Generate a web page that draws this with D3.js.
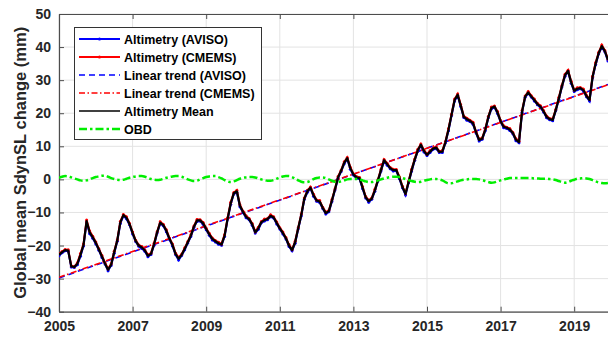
<!DOCTYPE html>
<html>
<head>
<meta charset="utf-8">
<script src="https://cdn.jsdelivr.net/npm/d3@7"></script>
<style>
  html, body { margin: 0; padding: 0; background: #fff; }
  svg { display: block; font-family: "Liberation Sans", Arial, sans-serif; }
</style>
</head>
<body>
<svg id="chart" width="608" height="339"></svg>
<script>
// Monthly global mean dynamic sea level change (mm), Jan 2005 - Dec 2019
const startYear = 2005;

const aviso = [
  -23.1, -22.2, -21.6, -21.7, -26.5, -26.6, -25.8, -23.2, -20.1, -12.9, -16.4, -17.8,
  -19.5, -21.4, -23.6, -25.6, -27.6, -26.0, -22.3, -18.7, -13.3, -11.0, -11.9, -13.7,
  -16.5, -18.8, -20.2, -20.9, -21.7, -23.4, -22.7, -19.9, -16.2, -13.4, -14.0, -15.8,
  -18.1, -20.1, -22.7, -24.4, -23.0, -21.3, -19.2, -17.3, -14.5, -12.7, -12.6, -13.6,
  -15.2, -16.9, -18.3, -18.9, -19.6, -19.9, -17.3, -12.0, -7.5, -4.4, -3.9, -8.3,
  -10.0, -11.6, -12.2, -13.9, -16.2, -15.1, -13.1, -12.6, -12.2, -11.3, -11.7, -13.5,
  -15.0, -16.5, -18.0, -20.3, -21.6, -19.3, -15.0, -11.1, -6.0, -3.9, -2.7, -5.1,
  -6.6, -7.0, -8.8, -10.5, -9.8, -6.7, -3.2, 0.3, 2.4, 4.7, 6.2, 3.1,
  1.3, 0.3, 0.2, -2.8, -5.6, -6.9, -6.0, -3.6, -0.5, 2.5, 5.6, 4.3,
  3.2, 2.5, 2.6, 0.2, -2.5, -4.7, -1.0, 2.5, 5.8, 8.5, 10.3, 8.3,
  7.2, 8.1, 9.1, 9.3, 8.1, 8.1, 11.0, 14.7, 19.3, 23.7, 25.4, 22.0,
  18.7, 17.9, 17.5, 16.7, 14.0, 11.6, 12.1, 14.7, 18.6, 21.3, 21.8, 19.9,
  17.4, 15.6, 15.4, 14.8, 13.8, 11.7, 11.1, 20.2, 24.8, 26.0, 24.9, 23.7,
  22.6, 21.7, 20.4, 18.6, 18.0, 17.7, 20.8, 24.2, 28.0, 31.2, 32.6, 29.1,
  26.6, 27.1, 27.4, 26.7, 25.0, 23.7, 30.8, 34.7, 38.0, 40.0, 38.6, 35.8
];

const cmems = [
  -22.5, -21.8, -21.2, -21.3, -26.1, -26.4, -25.2, -22.4, -19.5, -12.3, -15.6, -17.2,
  -18.9, -21.0, -23.0, -25.2, -27.0, -25.6, -21.7, -18.3, -12.7, -10.6, -11.3, -13.3,
  -15.9, -18.4, -19.8, -20.3, -21.3, -22.8, -22.3, -19.3, -15.8, -12.8, -13.6, -15.2,
  -17.7, -19.5, -22.3, -23.6, -22.6, -20.7, -18.8, -16.7, -14.1, -12.1, -12.2, -13.0,
  -14.8, -16.3, -17.7, -18.5, -19.0, -19.5, -16.7, -11.6, -6.9, -4.0, -3.3, -7.7,
  -9.6, -11.0, -11.8, -13.3, -15.8, -14.5, -12.7, -12.0, -11.8, -10.7, -11.3, -12.9,
  -14.6, -15.9, -17.6, -19.7, -21.2, -18.7, -14.6, -10.5, -5.6, -3.3, -2.3, -4.5,
  -6.2, -6.4, -8.4, -9.9, -9.4, -6.1, -2.8, 0.9, 2.8, 5.3, 6.6, 3.7,
  1.7, 0.9, 0.6, -2.2, -5.2, -6.3, -5.6, -3.0, -0.1, 3.1, 6.0, 4.9,
  3.6, 3.1, 3.0, 0.8, -2.1, -4.1, -0.6, 3.1, 6.2, 9.1, 10.7, 8.9,
  7.6, 8.7, 9.5, 9.9, 8.5, 8.7, 11.4, 15.3, 19.7, 24.3, 25.8, 22.6,
  19.1, 18.5, 17.9, 17.3, 14.4, 12.2, 12.5, 15.3, 19.0, 21.9, 22.2, 20.5,
  17.8, 16.2, 15.8, 15.4, 14.2, 12.3, 11.5, 20.8, 25.2, 26.6, 25.3, 24.3,
  23.0, 22.3, 20.8, 19.2, 18.4, 18.3, 21.2, 24.8, 28.4, 31.8, 33.0, 29.7,
  27.0, 27.7, 27.8, 27.3, 25.4, 24.3, 31.2, 35.3, 38.4, 40.6, 39.0, 36.4
];

// Ocean bottom deposit (OBD) contribution
const obd = [
  0.5, 0.8, 1.0, 0.9, 0.6, 0.3, 0.0, -0.3, -0.4, -0.3, 0.0, 0.4,
  0.7, 0.9, 1.1, 1.1, 0.8, 0.4, 0.1, -0.1, -0.2, -0.1, 0.2, 0.5,
  0.7, 0.9, 1.0, 1.0, 0.8, 0.5, 0.1, -0.1, -0.2, -0.1, 0.2, 0.5,
  0.7, 0.9, 1.0, 1.0, 0.8, 0.4, 0.0, -0.3, -0.5, -0.4, 0.0, 0.4,
  0.7, 0.9, 1.0, 1.0, 0.7, 0.3, -0.2, -0.6, -0.8, -0.6, -0.2, 0.2,
  0.5, 0.6, 0.7, 0.7, 0.6, 0.3, 0.0, -0.2, -0.4, -0.4, -0.2, 0.2,
  0.6, 0.9, 1.0, 1.0, 0.7, 0.2, -0.3, -0.7, -0.9, -0.8, -0.4, 0.1,
  0.4, 0.6, 0.6, 0.4, 0.0, -0.4, -0.7, -0.8, -0.6, -0.3, 0.0, 0.1,
  0.1, 0.1, 0.0, -0.3, -0.6, -0.8, -0.8, -0.6, -0.3, 0.0, 0.3, 0.5,
  0.7, 0.8, 0.8, 0.7, 0.4, 0.1, -0.2, -0.5, -0.7, -0.8, -0.7, -0.4,
  -0.2, 0.0, 0.1, 0.1, 0.0, -0.3, -0.8, -1.2, -1.2, -0.9, -0.6, -0.3,
  -0.1, 0.0, 0.1, 0.1, 0.1, 0.0, -0.2, -0.5, -0.8, -1.0, -0.9, -0.6,
  -0.3, 0.0, 0.2, 0.4, 0.4, 0.4, 0.4, 0.4, 0.4, 0.4, 0.4, 0.3,
  0.3, 0.2, 0.2, 0.2, 0.1, 0.0, -0.2, -0.5, -0.8, -1.0, -0.8, -0.4,
  -0.1, 0.2, 0.3, 0.4, 0.3, 0.1, -0.2, -0.6, -0.9, -1.1, -1.2, -1.1
];

// Linear trends: end points (year, mm)
const trendYears = [2005, 2019.917];
const trendAviso = [-29.8, 28.7];
const trendCmems = [-29.6, 28.6];

const xTicks = [2005, 2007, 2009, 2011, 2013, 2015, 2017, 2019];
const yTicks = [-40, -30, -20, -10, 0, 10, 20, 30, 40, 50];

const legendLabels = [
  "Altimetry (AVISO)", "Altimetry (CMEMS)", "Linear trend (AVISO)",
  "Linear trend (CMEMS)", "Altimetry Mean", "OBD"
];

(function draw() {
  // ---- series assembly ----
  const t = i => startYear + i / 12;
  const avisoPts = aviso.map((v, i) => [t(i), v]);
  const cmemsPts = cmems.map((v, i) => [t(i), v]);
  const meanPts = aviso.map((v, i) => [t(i), (v + cmems[i]) / 2]);
  const obdPts = obd.map((v, i) => [t(i), v]);
  const trendAvisoPts = trendYears.map((yr, i) => [yr, trendAviso[i]]);
  const trendCmemsPts = trendYears.map((yr, i) => [yr, trendCmems[i]]);

  // ---- layout ----
  const svg = d3.select("#chart");
  const pLeft = 59, pRight = 611, pTop = 14, pBottom = 311.7;
  const x = d3.scaleLinear().domain([2005, 2020]).range([pLeft, pRight]);
  const y = d3.scaleLinear().domain([-40, 50]).range([pBottom, pTop]);

  const axisColor = "#4d4d4d";
  const textColor = "#262626";

  svg.append("defs").append("clipPath").attr("id", "plotClip")
    .append("rect").attr("x", pLeft).attr("y", pTop)
    .attr("width", pRight - pLeft).attr("height", pBottom - pTop);

  // grid
  const grid = svg.append("g");
  grid.selectAll(".gx").data(xTicks).join("line")
    .attr("x1", d => x(d)).attr("x2", d => x(d))
    .attr("y1", pTop).attr("y2", pBottom)
    .attr("stroke", "#e3e3e3").attr("stroke-width", 1);
  grid.selectAll(".gy").data(yTicks).join("line")
    .attr("x1", pLeft).attr("x2", pRight)
    .attr("y1", d => y(d)).attr("y2", d => y(d))
    .attr("stroke", "#e3e3e3").attr("stroke-width", 1);

  // axes (inward ticks, boxed)
  const xAxisB = d3.axisBottom(x).tickValues(xTicks).tickFormat(d3.format("d"))
    .tickSizeInner(-5).tickSizeOuter(0).tickPadding(9);
  const xAxisT = d3.axisTop(x).tickValues(xTicks).tickFormat("")
    .tickSizeInner(-5).tickSizeOuter(0);
  const yAxisL = d3.axisLeft(y).tickValues(yTicks).tickFormat(d3.format("d"))
    .tickSizeInner(-5).tickSizeOuter(0).tickPadding(8);

  function styleAxis(g) {
    g.select(".domain").attr("stroke", axisColor).attr("stroke-width", 1.2);
    g.selectAll(".tick line").attr("stroke", axisColor).attr("stroke-width", 1);
    g.selectAll(".tick text").attr("fill", textColor)
      .style("font-size", "14px").style("font-weight", "bold")
      .style("font-family", '"Liberation Sans", Arial, sans-serif');
  }
  svg.append("g").attr("transform", `translate(0,${pBottom})`).call(xAxisB).call(styleAxis);
  svg.append("g").attr("transform", `translate(0,${pTop})`).call(xAxisT).call(styleAxis);
  svg.append("g").attr("transform", `translate(${pLeft},0)`).call(yAxisL).call(styleAxis);

  // y label
  svg.append("text")
    .attr("transform", `translate(26,${(pTop + pBottom) / 2}) rotate(-90)`)
    .attr("text-anchor", "middle")
    .attr("fill", textColor)
    .style("font-size", "16.5px").style("font-weight", "bold")
    .text("Global mean SdynSL change (mm)");

  // data lines
  const line = d3.line().x(d => x(d[0])).y(d => y(d[1]));
  const plot = svg.append("g").attr("clip-path", "url(#plotClip)");

  plot.append("path").datum(avisoPts).attr("d", line)
    .attr("fill", "none").attr("stroke", "#0000ff").attr("stroke-width", 2);
  plot.append("g").selectAll("circle").data(avisoPts).join("circle")
    .attr("cx", d => x(d[0])).attr("cy", d => y(d[1])).attr("r", 1.5).attr("fill", "#0000ff");

  plot.append("path").datum(cmemsPts).attr("d", line)
    .attr("fill", "none").attr("stroke", "#ff0000").attr("stroke-width", 2);
  plot.append("g").selectAll("circle").data(cmemsPts).join("circle")
    .attr("cx", d => x(d[0])).attr("cy", d => y(d[1])).attr("r", 1.5).attr("fill", "#ff0000");

  plot.append("path").datum(trendAvisoPts).attr("d", line)
    .attr("fill", "none").attr("stroke", "#0000ff").attr("stroke-width", 1.6)
    .attr("stroke-dasharray", "6,4");
  plot.append("path").datum(trendCmemsPts).attr("d", line)
    .attr("fill", "none").attr("stroke", "#ff0000").attr("stroke-width", 1.6)
    .attr("stroke-dasharray", "6,2.5,1.5,2.5");

  plot.append("path").datum(meanPts).attr("d", line)
    .attr("fill", "none").attr("stroke", "#000").attr("stroke-width", 2.2)
    .attr("stroke-linejoin", "round");

  plot.append("path").datum(obdPts)
    .attr("d", d3.line().curve(d3.curveMonotoneX).x(d => x(d[0])).y(d => y(d[1])))
    .attr("fill", "none").attr("stroke", "#00ee00").attr("stroke-width", 2.5)
    .attr("stroke-dasharray", "8,3,2.5,3");

  // legend
  const lg = svg.append("g");
  lg.append("rect").attr("x", 74.5).attr("y", 27.5).attr("width", 187).attr("height", 112)
    .attr("fill", "#fff").attr("stroke", "#333").attr("stroke-width", 1);

  const legendStyles = [
    { color: "#0000ff", dash: null, width: 1.8, marker: true },
    { color: "#ff0000", dash: null, width: 1.8, marker: true },
    { color: "#0000ff", dash: "6,4", width: 1.6, marker: false },
    { color: "#ff0000", dash: "6,2.5,1.5,2.5", width: 1.6, marker: false },
    { color: "#000000", dash: null, width: 1.3, marker: false },
    { color: "#00ee00", dash: "8,3,2.5,3", width: 2.5, marker: false }
  ];

  legendLabels.forEach((label, i) => {
    const cy = 39 + i * 18;
    const s = legendStyles[i];
    const ln = lg.append("line").attr("x1", 79).attr("x2", 120).attr("y1", cy).attr("y2", cy)
      .attr("stroke", s.color).attr("stroke-width", s.width);
    if (s.dash) ln.attr("stroke-dasharray", s.dash);
    if (s.marker) lg.append("circle").attr("cx", 99.5).attr("cy", cy).attr("r", 1.6).attr("fill", s.color);
    lg.append("text").attr("x", 124).attr("y", cy + 4.5)
      .attr("fill", "#000")
      .style("font-size", "12.5px").style("font-weight", "bold")
      .text(label);
  });
})();
</script>
</body>
</html>
